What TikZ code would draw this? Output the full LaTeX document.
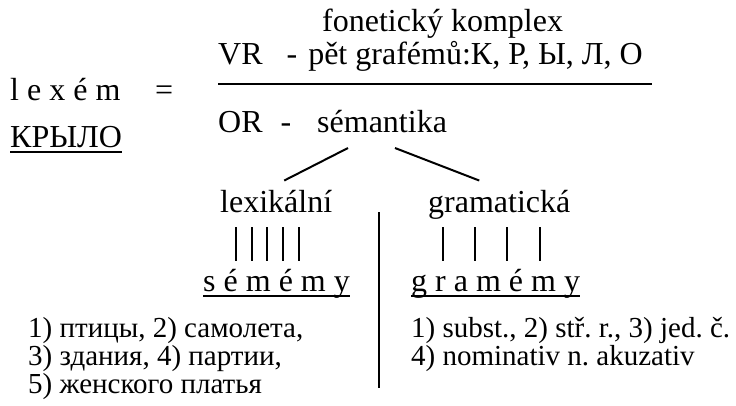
\documentclass[tikz,border=0pt]{standalone}
\usepackage{fontspec}
\setmainfont{Liberation Serif}
\usetikzlibrary{positioning,calc}
\frenchspacing

\begin{document}
\begin{tikzpicture}[x=1pt,y=-1pt,
  txt/.style={inner sep=0pt,anchor=base west,font=\fontsize{32}{38}\selectfont},
  lst/.style={inner sep=0pt,anchor=base west,font=\fontsize{29}{34}\selectfont},
  ln/.style={line width=2pt}]
\useasboundingbox (0,0) rectangle (736,405);
% left side
\node [txt] (lexem) at (10,100) {l e x é m};
\node [txt] (eq) at (155,100) {=};
\node [txt] (krylo) at (10,147) {КРЫЛО};
\draw[ln] ([yshift=-5pt]krylo.base west) -- ([yshift=-5pt]krylo.base east);
% fraction
\node [txt] (fon) at (322,31) {fonetický komplex};
\node [txt] (vr) at (218,64) {VR\hspace{24pt}-\hspace{11pt}pět grafémů:К, Р, Ы, Л, О};
\draw[line width=2.6pt] (218,84) -- (652,84);
\node [txt] (or) at (218,132) {OR\hspace{18pt}-};
\node [txt] (sem) at (317,132) {sémantika};
% branches
\node [txt] (lex) at (220,212) {lexikální};
\node [txt] (gram) at (428,212) {gramatická};
\draw[ln] ([xshift=8pt,yshift=9pt]lex.north) -- ([xshift=31pt,yshift=-16pt]sem.base west);
\draw[ln] ([xshift=-20pt,yshift=9pt]gram.north) -- ([xshift=78pt,yshift=-16pt]sem.base west);
\foreach \x in {236,252,267,283,299} \draw[ln] (\x,227) -- (\x,261);
\foreach \x in {443,475,507,540} \draw[ln] (\x,227) -- (\x,261);
\draw[ln] (379,212) -- (379,388);
\node [txt] (sememy) at (203,291) {s é m é m y};
\node [txt] (gramemy) at (411,291) {g r a m é m y};
\draw[ln] ([yshift=-5pt]sememy.base west) -- ([yshift=-5pt]sememy.base east);
\draw[ln] ([yshift=-5pt]gramemy.base west) -- ([yshift=-5pt]gramemy.base east);
% lists
\node [lst] (l1) at (28,337) {1) птицы, 2) самолета,};
\node [lst] (l2) at (28,365) {3) здания, 4) партии,};
\node [lst] (l3) at (28,393) {5) женского платья};
\node [lst] (r1) at (411,337) {1) subst., 2) stř. r., 3) jed. č.};
\node [lst] (r2) at (411,365) {4) nominativ n. akuzativ};
\end{tikzpicture}
\end{document}
